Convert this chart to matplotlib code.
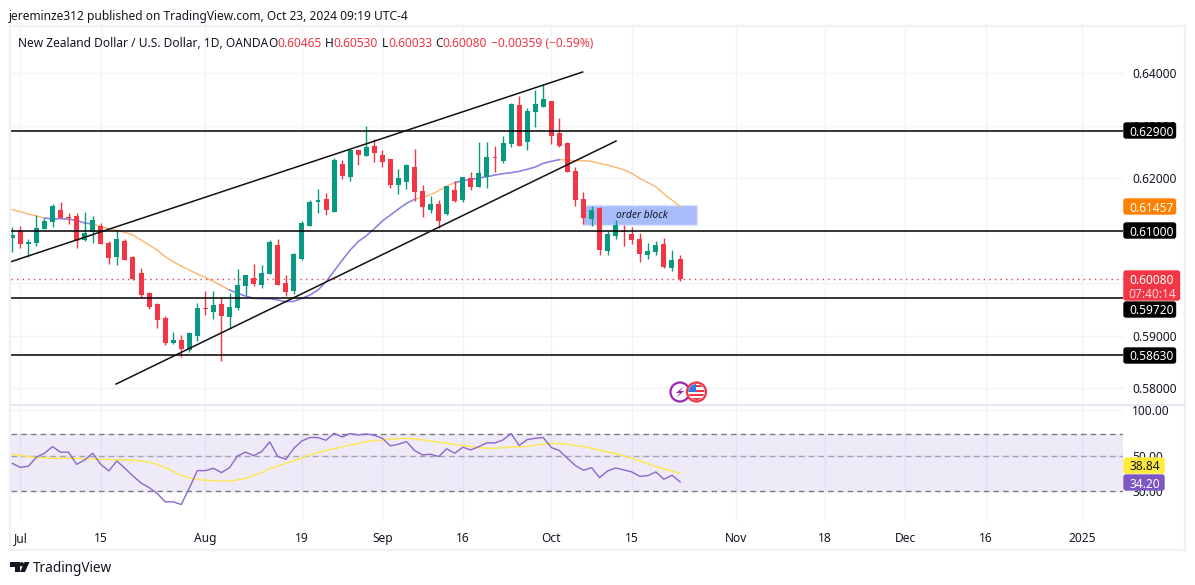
#!/usr/bin/python3

import numpy as np
import matplotlib
matplotlib.use("Agg")
import matplotlib.pyplot as plt
from matplotlib.patches import Circle, FancyBboxPatch, Polygon, Rectangle

W, H = 1195, 585
FONT = "Noto Sans"
TEXT = "#131722"
GREEN = "#089981"
RED = "#f23645"
GRID = "#f0f3fa"
FS = 8.6

plt.rcParams["font.family"] = [FONT, "DejaVu Sans"]

opens = [0.60864, 0.60997, 0.60743, 0.60762, 0.61029, 0.61162, 0.61391, 0.61264, 0.61277, 0.6082,
         0.60972, 0.61086, 0.60762, 0.60496, 0.608, 0.60496, 0.60191, 0.5981, 0.59601, 0.59334,
         0.58858, 0.58915, 0.58724, 0.58991, 0.59524, 0.59448, 0.59601, 0.59353, 0.59524, 0.59943,
         0.60096, 0.59962, 0.60172, 0.60724, 0.60001, 0.59848, 0.60458, 0.61086, 0.61543, 0.616,
         0.61353, 0.62267, 0.6202, 0.62534, 0.62419, 0.6261, 0.62439, 0.62362, 0.61867, 0.61924,
         0.6221, 0.61753, 0.61391, 0.61505, 0.61315, 0.61772, 0.61581, 0.62, 0.61829, 0.6202,
         0.624, 0.62324, 0.62648, 0.63391, 0.62686, 0.63258, 0.63353, 0.63467, 0.62858, 0.62667,
         0.62134, 0.616, 0.61219, 0.61429, 0.6061, 0.60896, 0.60985, 0.60934, 0.60839, 0.60534,
         0.60591, 0.60743, 0.60286, 0.60465]
highs = [0.61061, 0.61086, 0.60839, 0.61296, 0.61232, 0.61505, 0.61543, 0.61328, 0.61328, 0.61353,
         0.61277, 0.61137, 0.60794, 0.60991, 0.60839, 0.60515, 0.60286, 0.59829, 0.5962, 0.59372,
         0.59067, 0.5901, 0.59067, 0.5962, 0.59848, 0.59848, 0.59715, 0.5981, 0.60267, 0.60153,
         0.60362, 0.60343, 0.6082, 0.60839, 0.60153, 0.60572, 0.61175, 0.61581, 0.61791, 0.61715,
         0.62381, 0.62343, 0.62553, 0.62534, 0.62991, 0.62743, 0.62534, 0.62362, 0.62172, 0.62267,
         0.62553, 0.61867, 0.61658, 0.61581, 0.61848, 0.61943, 0.6202, 0.62115, 0.62686, 0.62686,
         0.6261, 0.628, 0.63423, 0.63562, 0.63334, 0.63677, 0.63791, 0.63467, 0.63143, 0.62686,
         0.6221, 0.61734, 0.61467, 0.61448, 0.60991, 0.612, 0.61105, 0.61067, 0.60953, 0.60762,
         0.608, 0.60858, 0.60629, 0.6053]
lows = [0.60597, 0.60667, 0.60489, 0.60712, 0.61029, 0.61073, 0.61232, 0.61131, 0.60667, 0.608,
        0.60762, 0.60743, 0.60362, 0.60343, 0.60439, 0.60058, 0.59734, 0.59512, 0.59143, 0.5882,
        0.58839, 0.58597, 0.58686, 0.58896, 0.59391, 0.59315, 0.58515, 0.59143, 0.59486, 0.59772,
        0.59943, 0.59905, 0.60172, 0.59962, 0.59753, 0.59791, 0.60439, 0.61086, 0.61334, 0.61296,
        0.61353, 0.61981, 0.61943, 0.62248, 0.62419, 0.62305, 0.6221, 0.6181, 0.61696, 0.61791,
        0.61562, 0.61258, 0.61334, 0.61048, 0.61296, 0.61543, 0.61543, 0.61772, 0.61829, 0.6181,
        0.62115, 0.62286, 0.62591, 0.6261, 0.62534, 0.62972, 0.63353, 0.62648, 0.62591, 0.62115,
        0.61467, 0.61124, 0.61086, 0.60534, 0.60534, 0.60839, 0.60705, 0.60743, 0.60401, 0.60458,
        0.60534, 0.60286, 0.60229, 0.60033]
closes = [0.60915, 0.60743, 0.60788, 0.61048, 0.61175, 0.61467, 0.61239, 0.61245, 0.608, 0.60953,
          0.612, 0.60743, 0.60477, 0.60839, 0.60439, 0.60077, 0.59772, 0.59543, 0.59296, 0.58858,
          0.58915, 0.58743, 0.59048, 0.59524, 0.59505, 0.59581, 0.59372, 0.59543, 0.59962, 0.60153,
          0.59981, 0.60191, 0.60781, 0.59962, 0.59829, 0.60553, 0.61143, 0.61543, 0.61581, 0.61391,
          0.62343, 0.62039, 0.62534, 0.62439, 0.62591, 0.62477, 0.62305, 0.61867, 0.62, 0.62248,
          0.61734, 0.61448, 0.61505, 0.61181, 0.61848, 0.61562, 0.6202, 0.61829, 0.62096, 0.624,
          0.62387, 0.62667, 0.6341, 0.6261, 0.63277, 0.6341, 0.63505, 0.628, 0.6261, 0.62115,
          0.61581, 0.61239, 0.61391, 0.60629, 0.60934, 0.61105, 0.60966, 0.6082, 0.60553, 0.6061,
          0.60724, 0.60305, 0.60439, 0.6008]

ma = [0.61397, 0.61359, 0.61315, 0.61277, 0.61239, 0.61219, 0.61226, 0.61219, 0.61194, 0.61143,
      0.61124, 0.6108, 0.61035, 0.61004, 0.60966, 0.60915, 0.6082, 0.60724, 0.60629, 0.60502,
      0.60407, 0.60324, 0.60248, 0.60172, 0.60108, 0.60032, 0.5995, 0.59867, 0.59804, 0.59753,
      0.59708, 0.59702, 0.59702, 0.59677, 0.59645, 0.59651, 0.59708, 0.59772, 0.59867, 0.60026,
      0.60229, 0.60432, 0.60629, 0.60788, 0.60902, 0.61035, 0.61181, 0.61296, 0.6141, 0.61518,
      0.61594, 0.61632, 0.61683, 0.61759, 0.61848, 0.61912, 0.6195, 0.61975, 0.62, 0.62026,
      0.62058, 0.62083, 0.62102, 0.62127, 0.62166, 0.6221, 0.6228, 0.62318, 0.6235, 0.62343,
      0.6233, 0.6233, 0.62318, 0.6228, 0.62248, 0.62204, 0.62159, 0.62089, 0.61994, 0.61912,
      0.61835, 0.61696, 0.61581, 0.61457]
ma_blue_ranges = [(4, 10), (27, 50), (55, 68)]

rsi = [45.0, 42.4, 43.1, 49.3, 52.3, 57.7, 53.1, 53.1, 44.3, 47.3,
       52.3, 44.3, 40.2, 46.6, 41.8, 37.3, 33.6, 31.4, 28.8, 25.4,
       25.4, 24.4, 31.1, 40.4, 40.4, 41.8, 39.2, 42.2, 50.2, 53.1,
       50.5, 53.6, 61.9, 49.8, 47.8, 56.3, 62.8, 66.0, 66.0, 63.4,
       70.4, 66.6, 70.0, 68.6, 69.7, 68.3, 65.3, 58.3, 59.8, 62.2,
       54.4, 51.0, 51.5, 49.8, 55.8, 52.3, 57.2, 54.9, 57.7, 61.0,
       61.0, 63.7, 70.0, 58.6, 64.0, 65.3, 66.0, 56.9, 54.4, 48.5,
       43.5, 40.6, 42.2, 36.4, 40.2, 42.0, 40.8, 39.6, 37.1, 37.5,
       39.6, 35.5, 37.7, 34.2]
rsi_ma = [51.5, 50.5, 49.8, 49.0, 48.8, 48.5, 48.5, 48.5, 48.3, 48.3,
          48.1, 47.8, 47.6, 47.6, 47.3, 47.1, 46.6, 45.7, 44.3, 42.2,
          39.8, 37.5, 36.2, 35.5, 35.0, 34.8, 34.6, 34.5, 35.2, 36.0,
          37.5, 39.2, 41.6, 43.3, 45.0, 46.9, 49.0, 51.0, 52.8, 54.4,
          56.0, 57.4, 59.2, 60.4, 62.2, 63.1, 63.7, 64.4, 65.0, 65.3,
          64.4, 63.7, 62.8, 61.6, 60.7, 59.5, 58.6, 57.7, 56.9, 56.3,
          56.3, 56.9, 57.4, 57.4, 58.0, 58.9, 59.8, 60.4, 60.4, 59.8,
          58.6, 57.7, 56.3, 54.7, 53.3, 52.0, 50.2, 48.8, 46.6, 44.8,
          42.8, 41.4, 40.0, 38.84]

price_ticks = [0.64, 0.63, 0.62, 0.61, 0.60, 0.59, 0.58]
rsi_ticks = [100, 50, 30]
date_ticks = [1, 11, 24, 36, 46, 56, 67, 77, 90, 101, 111, 121, 133]
date_labels = ["Jul", "15", "Aug", "19", "Sep", "16", "Oct", "15", "Nov", "18", "Dec", "16", "2025"]
level_prices = [0.629, 0.61, 0.5972, 0.5863]
channel_upper = ([-0.29, 70.9], [0.604, 0.6402])
channel_lower = ([12.9, 75.05], [0.58076, 0.62705])
order_block = (70.98, 85.07, 0.61099, 0.61486)
last_price = 0.6008


def pane(y_top, y_bottom):
    # pixel box to figure fractions
    return [11 / W, 1 - y_bottom / H, (1123 - 11) / W, (y_bottom - y_top) / H]


x = np.arange(len(closes))
opens, highs, lows, closes = map(np.array, (opens, highs, lows, closes))
ma = np.array(ma)
colors = [GREEN if c >= o else RED for o, c in zip(opens, closes)]

fig = plt.figure(figsize=(W / 100, H / 100), dpi=100, facecolor="white")
ax = fig.add_axes(pane(27, 405))
ax_rsi = fig.add_axes(pane(406, 521))

# price pane
for a in (ax, ax_rsi):
    a.set_xlim(-0.16, 138.06)
    for s in a.spines.values():
        s.set_visible(False)
    a.set_xticks(date_ticks)
    a.grid(True, color=GRID, lw=1)
    a.set_axisbelow(True)
    a.yaxis.tick_right()

ax.set_ylim(0.57677, 0.64877)
ax.set_yticks(price_ticks)
ax.set_yticklabels(["%.5f" % p for p in price_ticks], color=TEXT, fontsize=FS)
ax.tick_params(axis="y", length=0, pad=6.5)
ax.tick_params(axis="x", length=0, labelbottom=False)

ax.add_patch(Rectangle((order_block[0], order_block[2]), order_block[1] - order_block[0],
                       order_block[3] - order_block[2], fc="#a8bcfb", ec="#dfe5fb", lw=1, zorder=1.5))
ax.text((order_block[0] + order_block[1]) / 2 + 0.3, (order_block[2] + order_block[3]) / 2,
        "order block", style="italic", fontsize=7.4, color=TEXT, ha="center", va="center", zorder=6)

ax.plot(x, ma, color="#ffb46b", lw=1, zorder=2)
for start, end in ma_blue_ranges:
    ax.plot(x[start:end + 1], ma[start:end + 1], color="#8585fa", lw=1.1, zorder=2.1)

ax.vlines(x, lows, highs, colors=colors, lw=1.0, zorder=3)
ax.bar(x, closes - opens, bottom=opens, width=0.62, color=colors, lw=0, zorder=3)

ax.axhline(last_price, color=RED, lw=1, ls=(0, (1, 3)), zorder=2.5)
for level in level_prices:
    ax.axhline(level, color="black", lw=1.1, zorder=4)
ax.plot(*channel_upper, color="#111111", lw=1.1, zorder=4)
ax.plot(*channel_lower, color="#111111", lw=1.1, zorder=4)

# rsi pane, log scale like the source
ax_rsi.set_yscale("log")
ax_rsi.set_ylim(19.1, 105.5)
ax_rsi.minorticks_off()
ax_rsi.set_yticks(rsi_ticks)
ax_rsi.set_yticklabels(["%.2f" % v for v in rsi_ticks], color=TEXT, fontsize=FS)
ax_rsi.tick_params(axis="y", which="both", length=0, pad=6.5)
ax_rsi.tick_params(axis="x", length=0, pad=8)
ax_rsi.set_xticklabels(date_labels, color=TEXT, fontsize=FS)
ax_rsi.axhspan(30, 70, color="#7e57c2", alpha=0.12, lw=0, zorder=1)
ax_rsi.axhline(70, color="#787b86", lw=1, ls=(0, (4, 3)), zorder=1.5)
ax_rsi.axhline(50, color="#787b86", lw=1, ls=(0, (4, 3)), alpha=0.6, zorder=1.5)
ax_rsi.axhline(30, color="#787b86", lw=1, ls=(0, (4, 3)), zorder=1.5)
ax_rsi.plot(x, rsi_ma, color="#fde74c", lw=1, zorder=2)
ax_rsi.plot(x, rsi, color="#8a68cc", lw=1, zorder=3)

# everything outside the panes, in pixel coordinates
over = fig.add_axes([0, 0, 1, 1], zorder=10)
over.set_xlim(0, W)
over.set_ylim(H, 0)
over.axis("off")
over.patch.set_alpha(0)

FRAME = "#eef0f6"
over.plot([10, 10], [26, 550], color=FRAME, lw=1.6)
over.plot([1185, 1185], [26, 550], color=FRAME, lw=1.6)
over.plot([10, 1185], [26, 26], color=FRAME, lw=1.6)
over.plot([10, 1185], [550, 550], color=FRAME, lw=1.6)
over.plot([10, 1185], [405, 405], color="#e4e4f0", lw=1.2)


def tag(y0, y1, fc, label, tc="white", right=1176.5, tx=1152):
    over.add_patch(FancyBboxPatch((1124, y0 + 1), right - 1125, y1 - y0 - 2,
                                  boxstyle="round,pad=0,rounding_size=2", fc=fc, ec=fc, lw=1))
    over.text(tx, (y0 + y1) / 2, label, color=tc, fontsize=FS, ha="center", va="center_baseline")


tag(122, 139, "black", "0.62900")
tag(198, 215, "#ff8000", "0.61457")
tag(222, 239, "black", "0.61000")
tag(301, 318, "black", "0.59720")
tag(347, 364, "black", "0.58630")
tag(270, 301, RED, "", right=1180.5)
over.text(1152, 278.5, "0.60080", color="white", fontsize=FS, ha="center", va="center_baseline")
over.text(1152, 292.5, "07:40:14", color="#fcd3d7", fontsize=FS, ha="center", va="center_baseline")
tag(457, 474, "#ffeb3b", "38.84", tc=TEXT, right=1165, tx=1145)
tag(474, 491, "#7e57c2", "34.20", right=1165, tx=1145)

# header
over.text(9, 15, "jereminze312 published on TradingView.com, Oct 23, 2024 09:19 UTC-4",
          color=TEXT, fontsize=FS, va="center_baseline")
over.text(18, 42, "New Zealand Dollar / U.S. Dollar, 1D, OANDA", color=TEXT, fontsize=FS, va="center_baseline")
for px, letter, value in [(268, "O", "0.60465"), (325, "H", "0.60530"), (382, "L", "0.60033"), (435, "C", "0.60080")]:
    t = over.text(px, 42, letter, color=TEXT, fontsize=FS, va="center_baseline")
    over.annotate(value, xy=(1, 0), xycoords=t, va="bottom", color=RED, fontsize=FS)
over.text(491, 42, "\u22120.00359 (\u22120.59%)", color=RED, fontsize=FS, va="center_baseline")

# news icons
over.add_patch(Circle((680, 392), 9.5, fc="white", ec="#9c27b0", lw=1.6))
over.add_patch(Polygon([[684, 386], [676, 393], [680, 393], [676, 398], [684, 391], [680, 391]], fc="#9c27b0", ec="none"))
over.add_patch(Circle((696.5, 392), 9.5, fc="white", ec=RED, lw=1.6, zorder=3))
flag = Circle((696.5, 392), 8, transform=over.transData)
for fy in (385, 389.5, 394, 398):
    r = Rectangle((688, fy), 17, 2.2, fc=RED, ec="none", zorder=4)
    over.add_patch(r)
    r.set_clip_path(flag)
canton = Rectangle((688, 384), 8.5, 8, fc="#2b7de9", ec="none", zorder=5)
over.add_patch(canton)
canton.set_clip_path(flag)

# logo
over.add_patch(Polygon([[10, 562], [20, 562], [20, 572], [15, 572], [15, 567], [10, 567]], fc=TEXT, ec="none"))
over.add_patch(Circle((21.8, 564.3), 2.2, fc=TEXT, ec="none"))
over.add_patch(Polygon([[24.5, 562], [29.5, 562], [25, 572], [20, 572]], fc=TEXT, ec="none"))
over.text(33, 567, "TradingView", color=TEXT, fontsize=9.8, va="center_baseline")

fig.savefig("out.png", dpi=100, facecolor="white")
